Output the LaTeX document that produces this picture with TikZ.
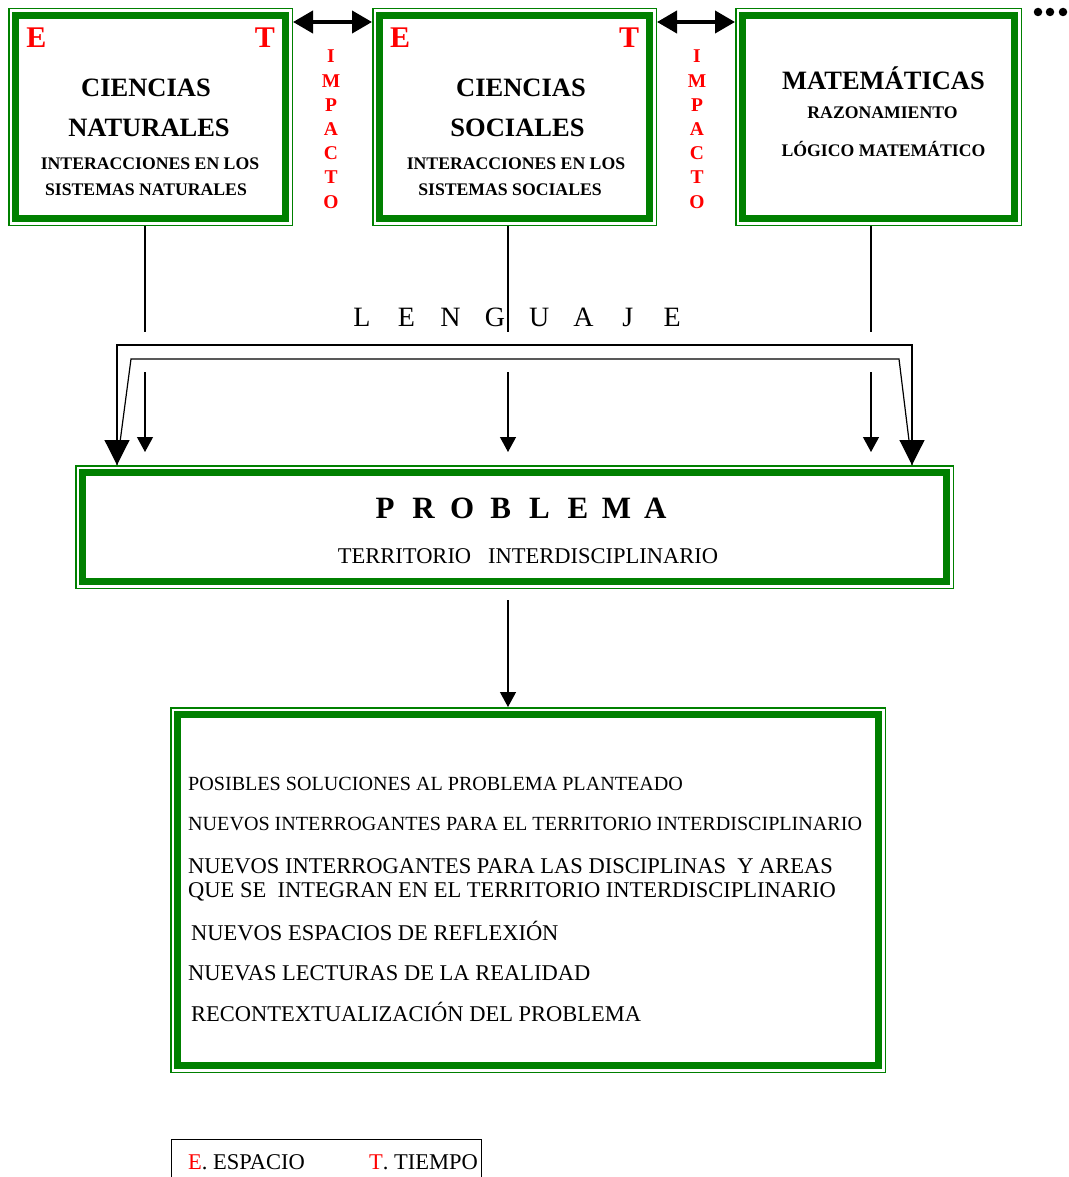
\documentclass[tikz,border=0pt]{standalone}
\usepackage{fontspec}
\setmainfont{Liberation Serif}
\usetikzlibrary{arrows.meta}
\definecolor{verde}{RGB}{0,128,0}

\begin{document}
\begin{tikzpicture}[x=1pt,y=-1pt,
  marco/.style={draw=verde, line width=1.5pt, anchor=north west, inner sep=0pt,
    path picture={\draw[verde, line width=7pt] ([shift={(7pt,-7pt)}]path picture bounding box.north west) rectangle ([shift={(-7pt,7pt)}]path picture bounding box.south east);}},
  txt/.style={inner sep=0pt, text depth=0pt},
  titulo/.style={txt, text height=17.4pt, font=\fontsize{26.5}{30}\selectfont\bfseries},
  subtitulo/.style={txt, text height=11.6pt, font=\fontsize{17.7}{20}\selectfont\bfseries},
  letraET/.style={txt, text=red, text height=19.6pt, font=\fontsize{30}{32}\selectfont\bfseries},
  impacto/.style={txt, text=red, text height=12.8pt, font=\fontsize{19.5}{20}\selectfont\bfseries},
  lengua/.style={txt, text height=18.3pt, font=\fontsize{28}{30}\selectfont},
  problema/.style={txt, text height=20.3pt, font=\fontsize{31}{34}\selectfont\bfseries},
  lista/.style={txt, anchor=west, text height=13.2pt, font=\fontsize{20.1}{24}\selectfont},
  listag/.style={txt, anchor=west, text height=14.7pt, font=\fontsize{22.5}{26}\selectfont},
  punto/.style={circle, fill, inner sep=0pt, minimum size=8.5pt},
  linea/.style={line width=1.2pt},
  doble/.style={line width=4pt, {Triangle[length=20pt,width=22pt]}-{Triangle[length=20pt,width=22pt]}},
  flecha/.style={line width=1.2pt, -{Triangle[length=15pt,width=16pt]}},
  grande/.style={line width=1.2pt, {Triangle[length=25pt,width=25pt]}-{Triangle[length=25pt,width=25pt]}}]
  \useasboundingbox (0,0) rectangle (1068,1177);
  \clip (0,0) rectangle (1068,1177);

  % Boxes
  \node[marco, minimum width=283.5pt, minimum height=216.5pt] (nat) at (8,8) {};
  \node[marco, minimum width=283.5pt, minimum height=216.5pt] (soc) at (372,8) {};
  \node[marco, minimum width=285.5pt, minimum height=216.5pt] (mat) at (735,8) {};
  \node[marco, minimum width=877.5pt, minimum height=122.5pt] (prob) at (75,465) {};
  \node[marco, minimum width=714.5pt, minimum height=364.5pt] (res) at (170,707) {};

  % Ciencias naturales
  \node[letraET] (natE) at (36.5,37.5) {E};
  \node[letraET] (natT) at (265,37.5) {T};
  \node[titulo] (nat1) at (146,88) {CIENCIAS};
  \node[titulo] (nat2) at (149,127.5) {NATURALES};
  \node[subtitulo] (nat3) at (150,163.5) {INTERACCIONES EN LOS};
  \node[subtitulo] (nat4) at (146,189.5) {SISTEMAS NATURALES};

  % Ciencias sociales
  \node[letraET] (socE) at (400,37.5) {E};
  \node[letraET] (socT) at (629,37.5) {T};
  \node[titulo] (soc1) at (521,88) {CIENCIAS};
  \node[titulo] (soc2) at (517.5,127.5) {SOCIALES};
  \node[subtitulo] (soc3) at (516,163.5) {INTERACCIONES EN LOS};
  \node[subtitulo] (soc4) at (510,189.5) {SISTEMAS SOCIALES};

  % Matematicas
  \node[titulo] (mat1) at (883.5,81) {MATEMÁTICAS};
  \node[subtitulo] (mat2) at (882.5,112.5) {RAZONAMIENTO};
  \node[subtitulo] (mat3) at (883.5,151) {LÓGICO MATEMÁTICO};

  % Impacto
  \foreach \l [count=\i] in {I,M,P,A,C,T,O} {
    \node[impacto] (imA\i) at (331,32.3+24.2*\i) {\l};
    \node[impacto] (imB\i) at (697,32.3+24.2*\i) {\l};
  }
  \foreach \x [count=\i] in {1038,1050,1063}
    \node[punto] (pt\i) at (\x,12) {};

  % Arrows between boxes
  \coordinate (fy) at (0,22);
  \draw[doble] (nat.east |- fy) -- (soc.west |- fy);
  \draw[doble] (soc.east |- fy) -- (mat.west |- fy);

  % Lenguaje
  \coordinate (l1) at (145,332);
  \coordinate (l2) at (508,332);
  \coordinate (l3) at (871,332);
  \draw[linea] (nat.south -| l1) -- (l1);
  \draw[linea] (soc.south -| l2) -- (l2);
  \draw[linea] (mat.south -| l3) -- (l3);
  \foreach \l [count=\i from 0] in {L,E,N,G,U,A,J,E}
    \node[lengua] (len\i) at (362+44.3*\i,317.5) {\l};
  \foreach \x [count=\i] in {145,508,871} {
    \coordinate (fa\i) at (\x,372);
    \coordinate (fb\i) at (\x,452);
    \draw[flecha] (fa\i) -- (fb\i);
  }
  \coordinate (izq) at (117,465);
  \coordinate (der) at (912,465);
  \coordinate (arr) at (500,345);
  \coordinate (i1) at (131,359);
  \coordinate (i2) at (899,359);
  \draw[linea] (izq) -- (i1) -- (i2) -- (der);
  \draw[grande] (izq) |- (arr) -| (der);

  % Problema
  \foreach \l [count=\i from 0] in {P,R,O,B,L,E,M,A}
    \node[problema] (pr\i) at (385+38.6*\i,508.5) {\l};
  \node[txt, text height=14.7pt, font=\fontsize{22.5}{26}\selectfont] (terr) at (528,556) {TERRITORIO\ \ \ INTERDISCIPLINARIO};
  \coordinate (s0) at (508,600);
  \draw[flecha] (s0) -- (s0 |- res.north);

  % Resultados
  \node[lista] (r1) at (188,784) {POSIBLES SOLUCIONES AL PROBLEMA PLANTEADO};
  \node[lista] (r2) at (188,824) {NUEVOS INTERROGANTES PARA EL TERRITORIO INTERDISCIPLINARIO};
  \node[listag] (r3) at (188,866) {NUEVOS INTERROGANTES PARA LAS DISCIPLINAS\ \ Y AREAS};
  \node[listag] (r4) at (188,890) {QUE SE\ \ INTEGRAN EN EL TERRITORIO INTERDISCIPLINARIO};
  \node[listag] (r5) at (191,933) {NUEVOS ESPACIOS DE REFLEXIÓN};
  \node[listag] (r6) at (188,973) {NUEVAS LECTURAS DE LA REALIDAD};
  \node[listag] (r7) at (191,1014) {RECONTEXTUALIZACIÓN DEL PROBLEMA};

  % Leyenda
  \node[draw, line width=1.2pt, anchor=north west, inner sep=0pt, minimum width=310pt, minimum height=60pt] (ley) at (171,1139) {};
  \node[listag] (leyE) at (188,1162.5) {\textcolor{red}{E}. ESPACIO};
  \node[listag] (leyT) at (369,1162.5) {\textcolor{red}{T}. TIEMPO};
\end{tikzpicture}
\end{document}
